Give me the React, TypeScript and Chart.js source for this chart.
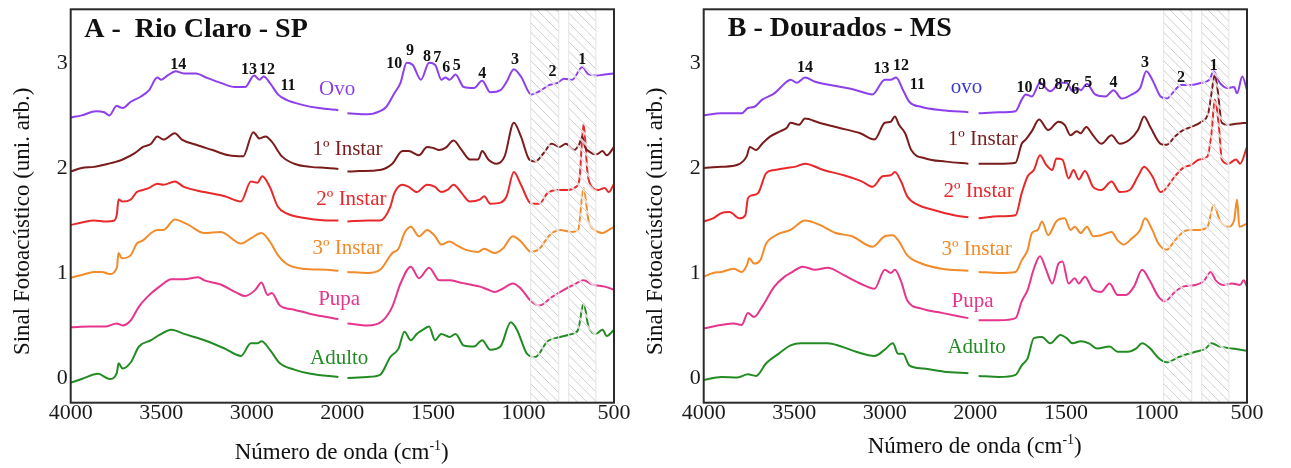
import React, { useEffect, useRef } from 'react';
import { Chart, registerables } from 'chart.js';

Chart.register(...registerables);

const FONT = '"Liberation Serif", "Times New Roman", serif';

// ---------- axis / annotation data ----------
const X_TICK_LABELS = ['4000', '3500', '3000', '2000', '1500', '1000', '500'];
const Y_TICKS = [0, 1, 2, 3];
const HATCH_BANDS: [number, number][] = [[960, 805], [750, 600]];
const SERIES_COLORS = ['#8c3fea', '#7a1c1c', '#e8282b', '#f28b2a', '#e6358c', '#238b23'];

// ---------- Panel A: Rio Claro - SP  ([wavenumber, signal]) ----------
const A_OVO = [
  [4000, 2.48], [3939, 2.5], [3860, 2.54], [3815, 2.53], [3786, 2.5], [3747, 2.59], [3713, 2.57], [3668, 2.63], [3612, 2.68], [3567, 2.74], [3522, 2.86], [3500, 2.84], [3465, 2.88], [3420, 2.92], [3375, 2.9], [3307, 2.9], [3251, 2.86], [3172, 2.81], [3093, 2.77], [3037, 2.77], [2974, 2.88], [2915, 2.84], [2870, 2.87], [2793, 2.8], [2712, 2.7], [2622, 2.65], [2441, 2.6], [2261, 2.57], [2044, 2.55],
  [1972, 2.52], [1860, 2.51], [1792, 2.54], [1758, 2.58], [1713, 2.71], [1679, 2.81], [1645, 3.0], [1611, 2.98], [1566, 2.84], [1521, 3.0], [1487, 2.98], [1453, 2.84], [1431, 2.86], [1408, 2.84], [1375, 2.89], [1330, 2.77], [1273, 2.76], [1228, 2.83], [1183, 2.72], [1127, 2.74], [1093, 2.82], [1053, 2.94], [1014, 2.87], [957, 2.7], [912, 2.73], [856, 2.79], [811, 2.81], [777, 2.85], [731, 2.84], [675, 2.96], [641, 2.89], [596, 2.88], [551, 2.89], [500, 2.9],
];
const A_INSTAR1 = [
  [4000, 1.965], [3939, 2.0], [3871, 2.01], [3792, 2.04], [3747, 2.06], [3713, 2.08], [3646, 2.14], [3601, 2.2], [3556, 2.23], [3522, 2.3], [3488, 2.27], [3425, 2.33], [3386, 2.27], [3307, 2.22], [3217, 2.17], [3127, 2.12], [3048, 2.11], [2983, 2.34], [2915, 2.28], [2847, 2.3], [2780, 2.25], [2667, 2.11], [2532, 2.04], [2351, 2.01], [2171, 2.0], [2044, 1.99],
  [1972, 1.965], [1905, 1.97], [1792, 1.98], [1724, 2.04], [1668, 2.16], [1634, 2.16], [1577, 2.12], [1532, 2.2], [1499, 2.19], [1465, 2.17], [1431, 2.19], [1386, 2.26], [1341, 2.17], [1296, 2.08], [1250, 2.08], [1228, 2.16], [1194, 2.08], [1149, 2.04], [1104, 2.11], [1053, 2.43], [1014, 2.3], [968, 2.08], [935, 2.06], [889, 2.14], [844, 2.23], [799, 2.2], [766, 2.23], [720, 2.17], [691, 2.23], [675, 2.3], [660, 2.2], [641, 2.16], [596, 2.13], [563, 2.16], [540, 2.12], [500, 2.2],
];
const A_INSTAR2 = [
  [4000, 1.457], [3939, 1.48], [3871, 1.5], [3804, 1.49], [3759, 1.5], [3745, 1.56], [3736, 1.7], [3713, 1.68], [3668, 1.7], [3635, 1.77], [3601, 1.79], [3567, 1.81], [3522, 1.85], [3488, 1.84], [3425, 1.87], [3375, 1.82], [3262, 1.77], [3149, 1.73], [3060, 1.68], [3005, 1.87], [2938, 1.86], [2884, 1.92], [2802, 1.82], [2712, 1.63], [2622, 1.57], [2396, 1.52], [2171, 1.5], [2044, 1.5],
  [1972, 1.49], [1860, 1.5], [1792, 1.5], [1735, 1.63], [1713, 1.76], [1668, 1.84], [1634, 1.82], [1589, 1.77], [1532, 1.84], [1488, 1.82], [1454, 1.77], [1420, 1.79], [1386, 1.84], [1341, 1.76], [1296, 1.68], [1239, 1.7], [1217, 1.73], [1183, 1.66], [1127, 1.67], [1093, 1.73], [1053, 1.96], [1014, 1.84], [957, 1.66], [912, 1.66], [867, 1.76], [811, 1.79], [754, 1.79], [709, 1.82], [691, 1.89], [668, 2.42], [646, 1.95], [623, 1.82], [585, 1.79], [551, 1.81], [529, 1.77], [500, 1.85],
];
const A_INSTAR3 = [
  [4000, 0.955], [3939, 0.98], [3871, 1.01], [3826, 1.01], [3786, 0.99], [3745, 1.05], [3736, 1.19], [3718, 1.14], [3668, 1.17], [3635, 1.28], [3601, 1.31], [3556, 1.38], [3522, 1.41], [3488, 1.41], [3425, 1.51], [3352, 1.46], [3262, 1.38], [3172, 1.39], [3060, 1.28], [3005, 1.33], [2893, 1.38], [2802, 1.3], [2712, 1.17], [2622, 1.09], [2441, 1.04], [2171, 1.03], [2044, 1.02],
  [1972, 1.01], [1860, 1.0], [1792, 1.03], [1724, 1.19], [1690, 1.23], [1657, 1.38], [1622, 1.44], [1577, 1.35], [1532, 1.41], [1488, 1.35], [1454, 1.27], [1408, 1.3], [1375, 1.27], [1318, 1.22], [1250, 1.2], [1217, 1.23], [1160, 1.19], [1115, 1.23], [1058, 1.35], [1014, 1.3], [957, 1.2], [912, 1.23], [856, 1.36], [799, 1.41], [731, 1.39], [698, 1.41], [668, 1.81], [641, 1.5], [607, 1.41], [563, 1.38], [529, 1.41], [500, 1.44],
];
const A_PUPA = [
  [4000, 0.483], [3894, 0.49], [3804, 0.49], [3747, 0.52], [3713, 0.5], [3668, 0.55], [3623, 0.68], [3578, 0.77], [3510, 0.87], [3443, 0.94], [3375, 0.94], [3296, 0.96], [3262, 0.93], [3172, 0.89], [3082, 0.81], [3037, 0.78], [2960, 0.84], [2893, 0.91], [2825, 0.79], [2780, 0.81], [2690, 0.69], [2532, 0.65], [2351, 0.61], [2171, 0.58], [2044, 0.56],
  [1972, 0.52], [1860, 0.5], [1781, 0.54], [1724, 0.68], [1679, 0.9], [1622, 1.06], [1577, 0.95], [1521, 1.05], [1465, 0.93], [1408, 0.93], [1352, 0.91], [1296, 0.89], [1239, 0.87], [1194, 0.84], [1160, 0.82], [1115, 0.85], [1058, 0.9], [1014, 0.85], [957, 0.73], [912, 0.69], [844, 0.77], [777, 0.84], [720, 0.89], [668, 0.93], [619, 0.89], [551, 0.87], [500, 0.84],
];
const A_ADULTO = [
  [4000, -0.044], [3939, -0.01], [3849, 0.04], [3786, -0.01], [3745, 0.05], [3736, 0.14], [3713, 0.09], [3668, 0.15], [3623, 0.3], [3556, 0.36], [3510, 0.41], [3443, 0.46], [3375, 0.42], [3262, 0.36], [3149, 0.28], [3060, 0.21], [3005, 0.33], [2938, 0.33], [2893, 0.35], [2802, 0.27], [2690, 0.14], [2532, 0.08], [2351, 0.04], [2044, 0.01],
  [1972, 0.0], [1860, 0.01], [1792, 0.03], [1735, 0.2], [1690, 0.28], [1657, 0.44], [1622, 0.36], [1589, 0.42], [1555, 0.46], [1521, 0.49], [1488, 0.36], [1454, 0.42], [1408, 0.39], [1375, 0.42], [1330, 0.31], [1273, 0.3], [1228, 0.36], [1183, 0.27], [1127, 0.3], [1070, 0.53], [1036, 0.46], [980, 0.23], [935, 0.2], [867, 0.35], [799, 0.39], [731, 0.42], [698, 0.46], [668, 0.71], [641, 0.49], [601, 0.42], [563, 0.46], [540, 0.4], [500, 0.46],
];
const A_SERIES_LABELS: [string, number, number][] = [
  ['Ovo', 2058, 2.75], ['1º Instar', 1972, 2.18], ['2º Instar', 1950, 1.7], ['3º Instar', 1972, 1.235], ['Pupa', 2035, 0.743], ['Adulto', 2035, 0.187],
];
const A_PEAKS: [string, number, number][] = [
  ['14', 3406, 2.98], ['13', 3016, 2.93], ['12', 2832, 2.93], ['11', 2600, 2.78], ['10', 1713, 2.99], ['9', 1627, 3.11], ['8', 1532, 3.06], ['7', 1476, 3.05], ['6', 1426, 2.95], ['5', 1368, 2.97], ['4', 1228, 2.9], ['3', 1047, 3.03], ['2', 840, 2.91], ['1', 675, 3.03],
];

// ---------- Panel B: Dourados - MS ----------
const B_OVO = [
  [4000, 2.5], [3903, 2.52], [3790, 2.52], [3756, 2.57], [3722, 2.58], [3677, 2.65], [3610, 2.71], [3542, 2.82], [3520, 2.84], [3486, 2.81], [3441, 2.86], [3384, 2.82], [3271, 2.78], [3158, 2.74], [3068, 2.7], [3000, 2.84], [2933, 2.84], [2875, 2.86], [2798, 2.74], [2730, 2.63], [2595, 2.58], [2370, 2.55], [2077, 2.53],
  [1982, 2.52], [1869, 2.53], [1778, 2.54], [1744, 2.65], [1722, 2.7], [1688, 2.68], [1643, 2.81], [1587, 2.73], [1530, 2.81], [1496, 2.81], [1463, 2.73], [1436, 2.76], [1418, 2.74], [1384, 2.8], [1339, 2.7], [1282, 2.68], [1237, 2.74], [1192, 2.66], [1135, 2.7], [1090, 2.76], [1056, 2.92], [1023, 2.84], [977, 2.68], [944, 2.66], [898, 2.74], [865, 2.79], [808, 2.79], [752, 2.81], [707, 2.84], [684, 2.92], [650, 2.81], [605, 2.76], [571, 2.77], [555, 2.71], [526, 2.87], [500, 2.74],
];
const B_INSTAR1 = [
  [4000, 2.0], [3903, 2.01], [3813, 2.03], [3763, 2.11], [3745, 2.2], [3711, 2.17], [3677, 2.23], [3632, 2.3], [3576, 2.35], [3542, 2.38], [3520, 2.43], [3474, 2.41], [3441, 2.47], [3362, 2.43], [3249, 2.38], [3136, 2.33], [3057, 2.27], [3000, 2.43], [2933, 2.44], [2889, 2.49], [2843, 2.41], [2775, 2.33], [2708, 2.17], [2550, 2.09], [2325, 2.06], [2077, 2.04],
  [1982, 2.04], [1869, 2.04], [1778, 2.05], [1744, 2.23], [1722, 2.27], [1688, 2.35], [1648, 2.46], [1598, 2.36], [1541, 2.44], [1507, 2.41], [1474, 2.31], [1440, 2.35], [1418, 2.33], [1388, 2.39], [1350, 2.31], [1305, 2.23], [1248, 2.31], [1203, 2.23], [1147, 2.27], [1102, 2.36], [1068, 2.49], [1034, 2.39], [977, 2.23], [944, 2.22], [898, 2.3], [853, 2.36], [808, 2.39], [752, 2.44], [714, 2.52], [696, 2.71], [678, 2.89], [662, 2.74], [639, 2.43], [605, 2.41], [560, 2.42], [500, 2.43],
];
const B_INSTAR2 = [
  [4000, 1.49], [3948, 1.52], [3903, 1.57], [3858, 1.58], [3801, 1.52], [3770, 1.55], [3756, 1.71], [3733, 1.74], [3700, 1.76], [3655, 1.95], [3610, 1.98], [3542, 2.0], [3497, 2.01], [3441, 2.04], [3339, 1.98], [3226, 1.93], [3125, 1.87], [3068, 1.82], [3012, 1.92], [2933, 1.93], [2889, 1.96], [2820, 1.87], [2753, 1.73], [2640, 1.65], [2460, 1.6], [2234, 1.55], [2077, 1.53],
  [1982, 1.52], [1869, 1.54], [1778, 1.55], [1744, 1.76], [1711, 1.92], [1677, 1.98], [1643, 2.12], [1609, 2.03], [1575, 1.98], [1553, 2.09], [1519, 2.08], [1485, 1.9], [1458, 1.98], [1429, 1.89], [1395, 1.97], [1350, 1.82], [1305, 1.79], [1248, 1.87], [1203, 1.77], [1147, 1.79], [1102, 1.92], [1068, 2.01], [1023, 1.92], [977, 1.77], [955, 1.79], [898, 1.92], [853, 2.0], [808, 2.03], [763, 2.08], [718, 2.11], [696, 2.33], [678, 2.65], [655, 2.39], [639, 2.08], [605, 2.04], [560, 2.08], [538, 2.04], [500, 2.2],
];
const B_INSTAR3 = [
  [4000, 0.965], [3948, 1.0], [3903, 1.01], [3835, 1.04], [3790, 1.01], [3760, 1.08], [3749, 1.14], [3722, 1.09], [3688, 1.12], [3655, 1.28], [3610, 1.35], [3576, 1.38], [3520, 1.41], [3441, 1.5], [3362, 1.46], [3271, 1.38], [3181, 1.35], [3068, 1.25], [3000, 1.35], [2911, 1.36], [2843, 1.3], [2753, 1.17], [2595, 1.09], [2370, 1.04], [2077, 1.02],
  [1982, 1.01], [1869, 1.0], [1778, 1.01], [1744, 1.12], [1711, 1.22], [1688, 1.38], [1655, 1.41], [1632, 1.49], [1598, 1.36], [1553, 1.49], [1507, 1.52], [1474, 1.41], [1451, 1.44], [1418, 1.38], [1384, 1.44], [1350, 1.35], [1305, 1.36], [1248, 1.39], [1214, 1.31], [1181, 1.27], [1135, 1.33], [1090, 1.41], [1063, 1.52], [1023, 1.41], [989, 1.28], [944, 1.22], [898, 1.31], [853, 1.39], [820, 1.41], [763, 1.41], [718, 1.44], [684, 1.65], [650, 1.5], [605, 1.44], [571, 1.5], [555, 1.7], [542, 1.44], [500, 1.47],
];
const B_PUPA = [
  [4000, 0.473], [3903, 0.505], [3835, 0.52], [3790, 0.505], [3756, 0.62], [3722, 0.58], [3677, 0.68], [3610, 0.87], [3553, 0.965], [3520, 1.0], [3452, 1.06], [3384, 1.03], [3316, 1.05], [3226, 0.98], [3136, 0.9], [3057, 0.85], [3000, 1.03], [2933, 1.0], [2889, 1.03], [2820, 0.92], [2753, 0.74], [2595, 0.66], [2370, 0.62], [2077, 0.57],
  [1982, 0.55], [1869, 0.55], [1778, 0.57], [1744, 0.73], [1711, 0.84], [1677, 1.04], [1643, 1.16], [1609, 1.03], [1575, 0.9], [1541, 1.09], [1519, 1.11], [1485, 0.9], [1451, 0.95], [1429, 0.9], [1395, 0.965], [1350, 0.84], [1305, 0.82], [1259, 0.9], [1214, 0.79], [1169, 0.79], [1124, 0.87], [1079, 1.03], [1038, 0.93], [989, 0.775], [955, 0.73], [898, 0.82], [853, 0.87], [785, 0.885], [740, 0.92], [700, 1.01], [673, 0.93], [628, 0.885], [583, 0.9], [538, 0.885], [519, 0.93], [500, 0.87],
];
const B_ADULTO = [
  [4000, -0.02], [3903, 0.01], [3813, 0.006], [3756, 0.035], [3711, 0.02], [3655, 0.14], [3587, 0.23], [3520, 0.31], [3463, 0.33], [3384, 0.33], [3316, 0.33], [3249, 0.305], [3158, 0.25], [3057, 0.21], [3000, 0.27], [2911, 0.33], [2853, 0.23], [2798, 0.23], [2730, 0.12], [2573, 0.09], [2347, 0.06], [2077, 0.045],
  [1982, 0.02], [1869, 0.01], [1778, 0.03], [1744, 0.12], [1711, 0.19], [1677, 0.38], [1632, 0.39], [1587, 0.33], [1530, 0.41], [1496, 0.38], [1463, 0.33], [1418, 0.35], [1373, 0.33], [1328, 0.28], [1259, 0.3], [1214, 0.25], [1158, 0.25], [1113, 0.28], [1079, 0.33], [1034, 0.28], [989, 0.19], [944, 0.15], [876, 0.2], [785, 0.25], [729, 0.28], [696, 0.33], [650, 0.3], [583, 0.28], [500, 0.26],
];
const B_SERIES_LABELS: [string, number, number][] = [
  ['ovo', 2098, 2.77], ['1º Instar', 1959, 2.27], ['2º Instar', 1982, 1.775], ['3º Instar', 1993, 1.22], ['Pupa', 2031, 0.733], ['Adulto', 1993, 0.289],
];
const B_PEAKS: [string, number, number][] = [
  ['14', 3441, 2.95], ['13', 3018, 2.94], ['12', 2820, 2.97], ['11', 2640, 2.79], ['10', 1729, 2.76], ['9', 1632, 2.79], ['8', 1541, 2.79], ['7', 1492, 2.77], ['6', 1449, 2.74], ['5', 1377, 2.81], ['4', 1237, 2.81], ['3', 1063, 3.0], ['2', 865, 2.86], ['1', 684, 2.97],
];

// ---------- helpers ----------
// broken wavenumber axis: 4000-3000 (2 units), 3000-2000 (1 unit), 2000-500 (3 units)
function toPos(w: number): number {
  if (w >= 3000) return (4000 - w) / 500;
  if (w >= 2000) return 2 + (3000 - w) / 1000;
  return 3 + (2000 - w) / 500;
}

function buildData(pts: number[][]) {
  const out: { x: number; y: number | null }[] = [];
  for (let i = 0; i < pts.length; i++) {
    const [w, v] = pts[i];
    if (i > 0 && pts[i - 1][0] >= 2000 && w < 2000) out.push({ x: 3, y: null });
    out.push({ x: toPos(w), y: v });
  }
  return out;
}

type PanelCfg = {
  title: string;
  titleDx: number;
  titleY: number;
  series: number[][][];
  labels: [string, number, number][];
  labelColors: string[];
  peaks: [string, number, number][];
  xTitleY: number;
  canvasLeft: number;
  canvasWidth: number;
};

const PANELS: PanelCfg[] = [
  {
    title: 'A -  Rio Claro - SP', titleDx: 13.6, titleY: 36.7,
    series: [A_OVO, A_INSTAR1, A_INSTAR2, A_INSTAR3, A_PUPA, A_ADULTO],
    labels: A_SERIES_LABELS, labelColors: SERIES_COLORS, peaks: A_PEAKS,
    xTitleY: 459, canvasLeft: 0, canvasWidth: 645,
  },
  {
    title: 'B - Dourados - MS', titleDx: 24, titleY: 35.5,
    series: [B_OVO, B_INSTAR1, B_INSTAR2, B_INSTAR3, B_PUPA, B_ADULTO],
    labels: B_SERIES_LABELS, labelColors: ['#3a3ad0', ...SERIES_COLORS.slice(1)], peaks: B_PEAKS,
    xTitleY: 453, canvasLeft: 633, canvasWidth: 658,
  },
];

const CA_LEFT = 70.7;
const CA_RIGHT = 614;
const CA_TOP = 9.3;
const CA_BOTTOM = 402.7;
const H = 468;

function makeDecorPlugin(cfg: PanelCfg) {
  return {
    id: 'decor',
    afterDatasetsDraw(chart: any) {
      const { ctx, chartArea: ca, scales } = chart;
      const xs = scales.x;
      const ys = scales.y;
      // hatched bands (drawn over the curves, as in the reference)
      for (const [w1, w2] of HATCH_BANDS) {
        const x1 = xs.getPixelForValue(toPos(w1));
        const x2 = xs.getPixelForValue(toPos(w2));
        const hh = ca.bottom - ca.top;
        ctx.save();
        ctx.beginPath();
        ctx.rect(x1, ca.top, x2 - x1, hh);
        ctx.clip();
        const path = () => {
          ctx.beginPath();
          for (let k = x1 - hh; k < x2 + 2; k += 9.5) {
            ctx.moveTo(k, ca.top);
            ctx.lineTo(k + hh, ca.bottom);
          }
        };
        ctx.strokeStyle = 'rgba(255,255,255,0.75)';
        ctx.lineWidth = 2.4;
        path();
        ctx.stroke();
        ctx.strokeStyle = '#cfcfcf';
        ctx.lineWidth = 1;
        path();
        ctx.stroke();
        ctx.restore();
        ctx.save();
        ctx.strokeStyle = '#e4e4e4';
        ctx.lineWidth = 1;
        ctx.strokeRect(x1, ca.top, x2 - x1, hh);
        ctx.restore();
      }
      // frame
      ctx.save();
      ctx.strokeStyle = '#2b2b2b';
      ctx.lineWidth = 2;
      ctx.strokeRect(ca.left, ca.top, ca.right - ca.left, ca.bottom - ca.top);
      ctx.restore();
      // title
      ctx.save();
      ctx.fillStyle = '#111';
      ctx.font = `bold 28px ${FONT}`;
      ctx.textAlign = 'left';
      ctx.textBaseline = 'alphabetic';
      ctx.fillText(cfg.title, ca.left + cfg.titleDx, cfg.titleY);
      // peak labels
      ctx.font = `bold 16px ${FONT}`;
      ctx.textAlign = 'center';
      ctx.textBaseline = 'middle';
      for (const [t, w, v] of cfg.peaks) {
        ctx.fillText(t, xs.getPixelForValue(toPos(w)), ys.getPixelForValue(v));
      }
      // series labels
      ctx.font = `21px ${FONT}`;
      cfg.labels.forEach(([t, w, v], i) => {
        ctx.fillStyle = cfg.labelColors[i];
        ctx.fillText(t, xs.getPixelForValue(toPos(w)), ys.getPixelForValue(v));
      });
      // y title
      ctx.fillStyle = '#111';
      ctx.save();
      ctx.translate(ca.left - 48, ca.top + 212);
      ctx.rotate(-Math.PI / 2);
      ctx.font = `23px ${FONT}`;
      ctx.fillText('Sinal Fotoacústico (uni. arb.)', 0, 0);
      ctx.restore();
      // x title with superscript
      const main = 'Número de onda (cm';
      const sup = '-1';
      const end = ')';
      ctx.font = `23px ${FONT}`;
      const w1 = ctx.measureText(main).width;
      const w3 = ctx.measureText(end).width;
      ctx.font = `14px ${FONT}`;
      const w2 = ctx.measureText(sup).width;
      const total = w1 + w2 + w3;
      let xx = ca.left + 271 - total / 2;
      ctx.textAlign = 'left';
      ctx.textBaseline = 'alphabetic';
      ctx.font = `23px ${FONT}`;
      ctx.fillText(main, xx, cfg.xTitleY);
      xx += w1;
      ctx.font = `14px ${FONT}`;
      ctx.fillText(sup, xx, cfg.xTitleY - 9);
      xx += w2;
      ctx.font = `23px ${FONT}`;
      ctx.fillText(end, xx, cfg.xTitleY);
      ctx.restore();
    },
  };
}

function Panel({ cfg }: { cfg: PanelCfg }) {
  const ref = useRef<HTMLCanvasElement | null>(null);
  useEffect(() => {
    if (!ref.current) return;
    const datasets = cfg.series.map((s, i) => ({
      data: buildData(s),
      borderColor: SERIES_COLORS[i],
      borderWidth: 2,
      pointRadius: 0,
      fill: false,
      spanGaps: false,
      cubicInterpolationMode: 'monotone' as const,
    }));
    const chart = new Chart(ref.current, {
      type: 'line',
      data: { datasets },
      options: {
        animation: false,
        responsive: false,
        devicePixelRatio: 1,
        layout: { padding: { left: 0, top: CA_TOP, right: cfg.canvasWidth - CA_RIGHT, bottom: 0 } },
        plugins: { legend: { display: false }, tooltip: { enabled: false } },
        events: [],
        scales: {
          x: {
            type: 'linear',
            min: 0,
            max: 6,
            grid: { display: false, drawTicks: false },
            border: { display: false },
            ticks: {
              stepSize: 1,
              padding: 0,
              color: '#1a1a1a',
              font: { family: FONT, size: 22, lineHeight: 1 },
              maxRotation: 0,
              autoSkip: false,
              callback: (v: any) => X_TICK_LABELS[Math.round(Number(v))] ?? '',
            },
            afterFit: (s: any) => {
              s.height = H - CA_BOTTOM;
              s.paddingLeft = 0; s.paddingRight = 0; s.paddingTop = 0; s.paddingBottom = 0;
            },
          },
          y: {
            type: 'linear',
            min: -0.235,
            max: 3.51,
            grid: { display: false, drawTicks: false },
            border: { display: false },
            afterBuildTicks: (s: any) => { s.ticks = Y_TICKS.map((v) => ({ value: v })); },
            ticks: {
              padding: 3,
              color: '#1a1a1a',
              font: { family: FONT, size: 22, lineHeight: 1 },
              callback: (v: any) => String(v),
            },
            afterFit: (s: any) => {
              s.width = CA_LEFT;
              s.paddingLeft = 0; s.paddingRight = 0; s.paddingTop = 0; s.paddingBottom = 0;
            },
          },
        },
      },
      plugins: [makeDecorPlugin(cfg)],
    } as any);
    return () => chart.destroy();
  }, [cfg]);
  return (
    <canvas
      ref={ref}
      width={cfg.canvasWidth}
      height={H}
      style={{ position: 'absolute', left: cfg.canvasLeft, top: 0, width: cfg.canvasWidth, height: H }}
    />
  );
}

export default function App() {
  return (
    <div style={{ position: 'absolute', left: 0, top: 0, width: 1291, height: H, background: '#ffffff', overflow: 'hidden' }}>
      {PANELS.map((p, i) => (
        <Panel key={i} cfg={p} />
      ))}
    </div>
  );
}
